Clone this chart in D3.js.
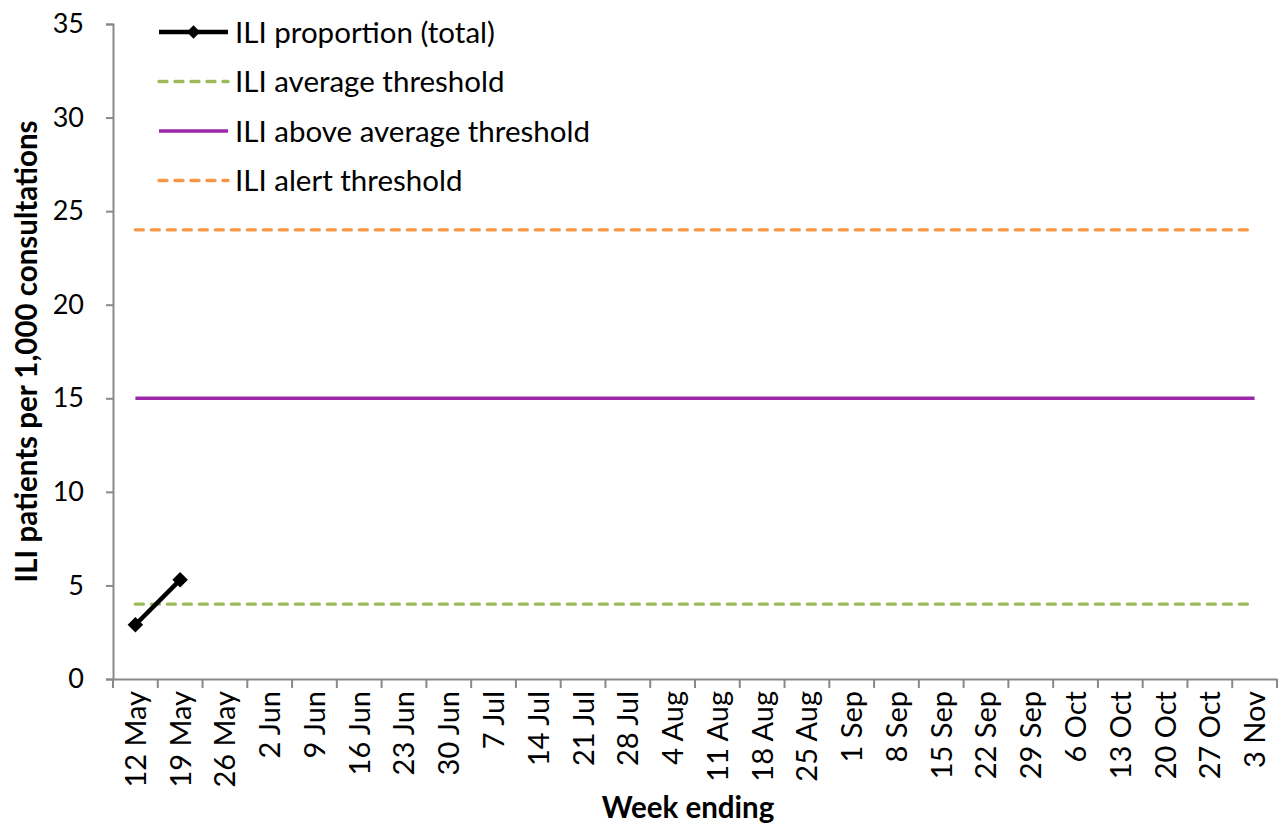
<!DOCTYPE html>
<html><head><meta charset="utf-8">
<script src="https://cdn.jsdelivr.net/npm/d3@7"></script>
<style>body{margin:0;background:#fff}svg{display:block}</style>
</head><body>
<svg id="c" width="1279" height="823"></svg>
<script>
const weeks = ["12 May","19 May","26 May","2 Jun","9 Jun","16 Jun","23 Jun","30 Jun","7 Jul","14 Jul","21 Jul","28 Jul","4 Aug","11 Aug","18 Aug","25 Aug","1 Sep","8 Sep","15 Sep","22 Sep","29 Sep","6 Oct","13 Oct","20 Oct","27 Oct","3 Nov"];
const iliTotal = [2.9, 5.3];
const avgThreshold = 4;
const aboveAvgThreshold = 15;
const alertThreshold = 24;
const yTicks = [0,5,10,15,20,25,30,35];
const legendLabels = ["ILI proportion (total)","ILI average threshold","ILI above average threshold","ILI alert threshold"];

const font = "Lato, 'Open Sans', sans-serif";
const svg = d3.select("#c");
const L = 113, R = 1277, T = 24, B = 679;
const x = d3.scaleBand().domain(weeks).range([L, R]);
const y = d3.scaleLinear().domain([0, 35]).range([B, T]);
const axisCol = "#898989";

// y axis
const ya = svg.append("g").attr("transform", `translate(${L},0)`)
  .call(d3.axisLeft(y).tickValues(yTicks).tickSize(7).tickPadding(10));
ya.select(".domain").attr("stroke", axisCol).attr("stroke-width", 2);
ya.selectAll(".tick line").attr("stroke", axisCol).attr("stroke-width", 2);
ya.selectAll(".tick text").attr("font-family", font).attr("font-size", 27).attr("fill", "#000").attr("dx", -12);

// x axis
const xa = svg.append("g").attr("transform", `translate(0,${B})`)
  .call(d3.axisBottom(x).tickSize(0).tickSizeOuter(0));
xa.select(".domain").attr("stroke", axisCol).attr("stroke-width", 2);
xa.selectAll(".tick line").remove();
const bounds = weeks.map(w => x(w)).concat([R]);
xa.selectAll(".bt").data(bounds).enter().append("line")
  .attr("x1", d => d).attr("x2", d => d).attr("y1", 0).attr("y2", 9)
  .attr("stroke", axisCol).attr("stroke-width", 2);
xa.selectAll(".tick text")
  .attr("font-family", font).attr("font-size", 29).attr("fill", "#000")
  .attr("transform", "rotate(-90)")
  .attr("text-anchor", "end").attr("x", -12).attr("y", 0).attr("dy", "0.36em");

// thresholds
const x0 = x(weeks[0]) + x.bandwidth()/2, x1 = x(weeks[weeks.length-1]) + x.bandwidth()/2;
const thr = [
  {v: avgThreshold, c: "#9BBB59", dash: "8,8"},
  {v: aboveAvgThreshold, c: "#9C27A8", dash: null},
  {v: alertThreshold, c: "#F79646", dash: "8,8"}
];
thr.forEach(t => {
  const l = svg.append("line").attr("x1", x0).attr("x2", x1).attr("y1", y(t.v)).attr("y2", y(t.v))
    .attr("stroke", t.c).attr("stroke-width", 3.4);
  if (t.dash) l.attr("stroke-dasharray", t.dash).attr("stroke-linecap", "round");
});

// data line
const line = d3.line().x((d,i) => x(weeks[i]) + x.bandwidth()/2).y(d => y(d));
svg.append("path").datum(iliTotal).attr("d", line).attr("fill", "none").attr("stroke", "#000").attr("stroke-width", 4.5);
svg.selectAll(".pt").data(iliTotal).enter().append("path")
  .attr("d", d3.symbol().type(d3.symbolSquare).size(120))
  .attr("transform", (d,i) => `translate(${x(weeks[i]) + x.bandwidth()/2},${y(d)}) rotate(45)`)
  .attr("fill", "#000");

// legend
const lg = svg.append("g");
const rows = [
  {c: "#000", dash: null, w: 4.5, marker: true},
  {c: "#9BBB59", dash: "8,8", w: 3.4},
  {c: "#9C27A8", dash: null, w: 3.4},
  {c: "#F79646", dash: "8,8", w: 3.4}
];
rows.forEach((r, i) => {
  const yy = 32 + i * 49.5;
  const l = lg.append("line").attr("x1", 159).attr("x2", 228).attr("y1", yy).attr("y2", yy)
    .attr("stroke", r.c).attr("stroke-width", r.w);
  if (r.dash) l.attr("stroke-dasharray", r.dash).attr("stroke-linecap", "round");
  if (r.marker) lg.append("path").attr("d", d3.symbol().type(d3.symbolSquare).size(90)())
    .attr("transform", `translate(193.5,${yy}) rotate(45)`).attr("fill", "#000");
  lg.append("text").attr("x", 235).attr("y", yy).attr("dy", "0.36em")
    .attr("font-family", font).attr("font-size", 29.5).attr("fill", "#000").text(legendLabels[i]);
});

// axis titles
svg.append("text").attr("transform", `translate(37,${(T+B)/2}) rotate(-90)`)
  .attr("text-anchor", "middle").attr("font-family", font).attr("font-weight", "bold")
  .attr("font-size", 29.5).text("ILI patients per 1,000 consultations");
svg.append("text").attr("x", 688).attr("y", 818).attr("text-anchor", "middle")
  .attr("font-family", font).attr("font-weight", "bold").attr("font-size", 29.5).text("Week ending");
</script>
</body></html>
